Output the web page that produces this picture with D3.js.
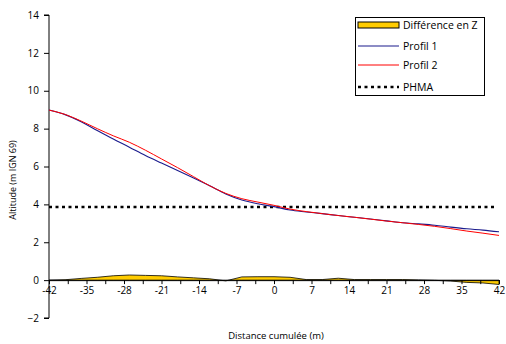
<!DOCTYPE html>
<html><head><meta charset="utf-8">
<script src="https://cdn.jsdelivr.net/npm/d3@7"></script>
<style>body{margin:0;background:#fff}svg{display:block}text{font-family:"Open Sans",sans-serif;fill:#000}</style>
</head><body>
<script>
const distances = [-42,-39,-36,-33,-30,-27,-24,-21,-18,-15,-12,-9,-6,-3,0,3,6,9,12,15,18,21,24,27,30,33,36,39,42];
const profil1 = [8.98,8.74,8.36,7.90,7.45,7.02,6.58,6.18,5.79,5.39,4.98,4.55,4.23,4.03,3.88,3.70,3.60,3.51,3.41,3.32,3.23,3.13,3.03,2.97,2.90,2.80,2.71,2.64,2.55];
const profil2 = [8.98,8.75,8.40,8.00,7.62,7.28,6.86,6.40,5.94,5.46,4.98,4.58,4.30,4.12,3.95,3.75,3.62,3.51,3.41,3.32,3.22,3.12,3.03,2.94,2.84,2.72,2.59,2.48,2.36];
const diffZ = [0,0.02,0.09,0.15,0.23,0.27,0.25,0.23,0.17,0.12,0.07,-0.04,0.17,0.18,0.18,0.15,0.03,0.03,0.10,0.03,0.03,0.03,0.03,0.01,-0.01,-0.05,-0.12,-0.15,-0.23];
const phma = 3.86;
const xTickLabels = [-42,-35,-28,-21,-14,-7,0,7,14,21,28,35,42];
const yTickLabels = [-2,0,2,4,6,8,10,12,14];
const legendLabels = ["Différence en Z","Profil 1","Profil 2","PHMA"];

const W=506,H=344;
const svg=d3.select("body").append("svg").attr("width",W).attr("height",H);
const x=d3.scaleLinear().domain([-42,42]).range([49,499]);
const y=d3.scaleLinear().domain([-2,14]).range([318,15]);

const area=d3.area().x((d,i)=>x(distances[i])).y0(y(0)).y1(d=>y(d));
svg.append("path").datum(diffZ).attr("d",area).attr("fill","#FFCC00").attr("stroke","#000").attr("stroke-width",0.8);

const xAxis=d3.axisBottom(x).tickValues(d3.range(-42,42.01,3.5)).tickSize(4).tickFormat(d=>xTickLabels.includes(d)?d:"");
const gx=svg.append("g").attr("transform",`translate(0,${y(0)})`).call(xAxis);
gx.select(".domain").attr("stroke","#000");
gx.selectAll("text").attr("font-size",10).attr("dy","0.9em").attr("y",5);

const yAxis=d3.axisLeft(y).tickValues(yTickLabels).tickSize(5).tickPadding(5);
const gy=svg.append("g").attr("transform",`translate(${x(-42)},0)`).call(yAxis);
gy.selectAll("text").attr("font-size",10);
gy.select(".domain").attr("d",`M-5,${y(14)}H0V${y(-2)}H-5`).attr("stroke","#000");

svg.append("line").attr("x1",x(-42)).attr("x2",x(41.5)).attr("y1",y(phma)).attr("y2",y(phma))
  .attr("stroke","#000").attr("stroke-width",2.5).attr("stroke-dasharray","3,3.5");

const line=d3.line().x((d,i)=>x(distances[i])).y(d=>y(d)).curve(d3.curveMonotoneX);
svg.append("path").datum(profil1).attr("d",line).attr("fill","none").attr("stroke","#1a1a8c").attr("stroke-width",1.1);
svg.append("path").datum(profil2).attr("d",line).attr("fill","none").attr("stroke","#ff0000").attr("stroke-width",1);

svg.append("text").attr("x",276).attr("y",339).attr("text-anchor","middle").attr("font-size",9.5).text("Distance cumulée (m)");
svg.append("text").attr("transform","translate(16,180) rotate(-90)").attr("text-anchor","middle").attr("font-size",9).text("Altitude (m IGN 69)");

const lg=svg.append("g");
lg.append("rect").attr("x",355.5).attr("y",17.5).attr("width",129).attr("height",78).attr("fill","#fff").attr("stroke","#000");
const ly=[25,46,65,87];
lg.append("rect").attr("x",358).attr("y",ly[0]-3).attr("width",41).attr("height",6).attr("fill","#FFCC00").attr("stroke","#000").attr("stroke-width",1);
lg.append("line").attr("x1",358).attr("x2",399).attr("y1",ly[1]).attr("y2",ly[1]).attr("stroke","#1a1a8c").attr("stroke-width",1.1);
lg.append("line").attr("x1",358).attr("x2",399).attr("y1",ly[2]).attr("y2",ly[2]).attr("stroke","#ff0000").attr("stroke-width",1);
lg.append("line").attr("x1",358).attr("x2",399).attr("y1",ly[3]).attr("y2",ly[3]).attr("stroke","#000").attr("stroke-width",2.5).attr("stroke-dasharray","3,3.5");
legendLabels.forEach((t,i)=>lg.append("text").attr("x",403).attr("y",ly[i]).attr("dy","0.35em").attr("font-size",10.5).text(t));
</script>
</body></html>
